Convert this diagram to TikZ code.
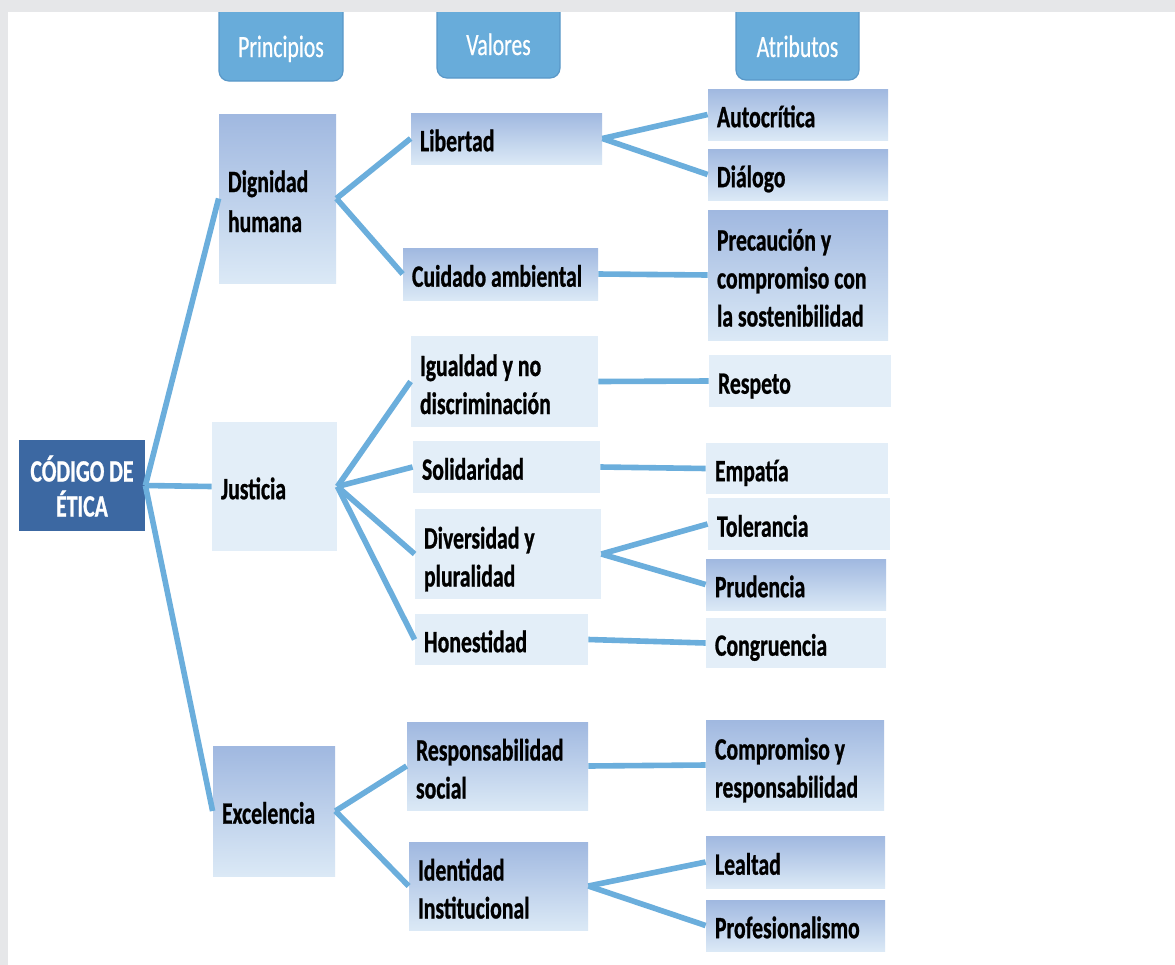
\documentclass[tikz,border=0pt]{standalone}
\usepackage{fontspec}
\setmainfont{Carlito}[FakeStretch=0.70, BoldFeatures={FakeBold=0.8}]
\newfontfamily\hdrfont{Carlito}[FakeStretch=0.70, FakeBold=0.5]
\definecolor{hdr}{RGB}{104,172,218}
\definecolor{hdrb}{RGB}{90,152,200}
\definecolor{codc}{RGB}{60,104,162}
\definecolor{lite}{RGB}{227,238,248}
\definecolor{gtop}{RGB}{160,184,224}
\definecolor{gbot}{RGB}{219,233,246}
\definecolor{linkc}{RGB}{107,174,220}
\definecolor{framec}{RGB}{230,231,233}
\begin{document}
\begin{tikzpicture}[x=0.5pt,y=-0.5pt,
  box/.style={rectangle, inner xsep=4.5pt, inner ysep=0pt, align=flush left,
    font=\fontsize{15.5}{19}\selectfont\bfseries, text=black},
  one/.style={execute at begin node={\rule[-3.5pt]{0pt}{19.7pt}}},
  multi/.style={execute at begin node={\rule{0pt}{17pt}},
    execute at end node={\rule[-3.5pt]{0pt}{0pt}}},
  gbox/.style={box, top color=gtop, bottom color=gbot},
  lbox/.style={box, fill=lite},
  sz/.style n args={3}{minimum width=#1pt, minimum height=#2pt, text width=#3pt},
  hdrbox/.style={fill=hdr, draw=hdrb, line width=0.6pt, rounded corners=5pt},
  hdrtext/.style={font=\hdrfont\fontsize{15.5}{19}\selectfont, text=white, inner sep=0pt, anchor=base},
  link/.style={draw=linkc, line width=2.8pt}]
\useasboundingbox (0,0) rectangle (1175,965);
\fill[white] (0,0) rectangle (1175,965);

% headers
\path[hdrbox] (219,-12) rectangle (343,81);
\path[hdrbox] (437,-12) rectangle (560,78);
\path[hdrbox] (736,-12) rectangle (859,80);
\node[hdrtext] (hp) at (281,57) {Principios};
\node[hdrtext] (hv) at (498.5,55) {Valores};
\node[hdrtext] (ha) at (797.5,57) {Atributos};

% frame
\fill[framec] (0,0) rectangle (1175,12);
\fill[framec] (0,0) rectangle (8,965);

% root
\node[box, multi, fill=codc, text=white, align=flush center, inner xsep=1pt,
  font=\fontsize{15.5}{17.5}\selectfont\bfseries,
  minimum width=63pt, minimum height=45.5pt, text width=61pt] (cod) at (82,485.5) {CÓDIGO DE\\ÉTICA};

% principles
\node[gbox, multi, font=\fontsize{15.5}{20}\selectfont\bfseries, sz={58.5}{84.5}{49.5}] (dig) at (277.5,198.5) {Dignidad\\humana};
\node[lbox, one, sz={62.5}{64.5}{53.5}] (jus) at (274.5,486.5) {Justicia};
\node[gbox, one, sz={61}{65}{52}] (exc) at (274,811) {Excelencia};

% values
\node[gbox, one, sz={95.5}{25.5}{86.5}] (lib) at (506.5,138.5) {Libertad};
\node[gbox, one, sz={97.5}{26}{88.5}] (cui) at (500.5,274) {Cuidado ambiental};
\node[lbox, multi, sz={93.5}{45.5}{84.5}] (igu) at (504.5,381.5) {Igualdad y no\\discriminación};
\node[lbox, one, sz={93.5}{26}{84.5}] (sol) at (506.5,467) {Solidaridad};
\node[lbox, multi, sz={93}{45}{84}] (div) at (508,554) {Diversidad y\\pluralidad};
\node[lbox, one, sz={86.5}{25.5}{77.5}] (hon) at (501.5,639.5) {Honestidad};
\node[gbox, multi, sz={90.5}{44}{81.5}] (res) at (497.5,766) {Responsabilidad\\social};
\node[gbox, multi, sz={89.5}{44}{80.5}] (ide) at (498.5,886) {Identidad\\Institucional};

% attributes
\node[gbox, one, sz={90}{25.5}{81}] (aut) at (798,114.5) {Autocrítica};
\node[gbox, one, sz={90}{25.5}{81}] (dia) at (798,174.5) {Diálogo};
\node[gbox, multi, sz={90}{65}{81}] (pre) at (798,275) {Precaución y\\compromiso con\\la sostenibilidad};
\node[lbox, one, sz={91}{26}{82}] (rsp) at (800,381) {Respeto};
\node[lbox, one, sz={91}{25.5}{82}] (emp) at (797,468.5) {Empatía};
\node[lbox, one, sz={91}{26}{82}] (tol) at (799,524) {Tolerancia};
\node[gbox, one, sz={90}{25.5}{81}] (pru) at (796,584.5) {Prudencia};
\node[lbox, one, sz={90}{25}{81}] (con) at (796,643) {Congruencia};
\node[gbox, multi, sz={89}{45}{80}] (com) at (795,765) {Compromiso y\\responsabilidad};
\node[gbox, one, sz={89.5}{26}{80.5}] (lea) at (795.5,862) {Lealtad};
\node[gbox, one, sz={89.5}{25.5}{80.5}] (pro) at (795.5,925.5) {Profesionalismo};

% connectors
\draw[link] (cod.east) -- (dig.west);
\draw[link] (cod.east) -- (jus.west);
\draw[link] (cod.east) -- (exc.west);
\draw[link] (dig.east) -- (lib.west);
\draw[link] (dig.east) -- (cui.west);
\draw[link] (jus.east) -- (igu.west);
\draw[link] (jus.east) -- (sol.west);
\draw[link] (jus.east) -- (div.west);
\draw[link] (jus.east) -- (hon.west);
\draw[link] (exc.east) -- (res.west);
\draw[link] (exc.east) -- (ide.west);
\draw[link] (lib.east) -- (aut.west);
\draw[link] (lib.east) -- (dia.west);
\draw[link] (cui.east) -- (pre.west);
\draw[link] (igu.east) -- (rsp.west);
\draw[link] (sol.east) -- (emp.west);
\draw[link] (div.east) -- (tol.west);
\draw[link] (div.east) -- (pru.west);
\draw[link] (hon.east) -- (con.west);
\draw[link] (res.east) -- (com.west);
\draw[link] (ide.east) -- (lea.west);
\draw[link] (ide.east) -- (pro.west);
\end{tikzpicture}
\end{document}
